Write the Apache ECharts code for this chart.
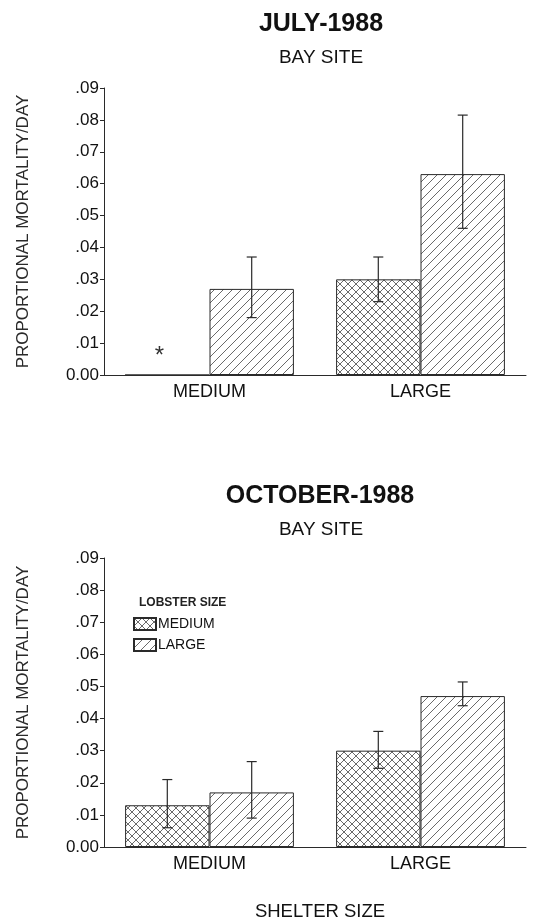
<!DOCTYPE html>
<html>
<head>
<meta charset="utf-8">
<script src="https://cdn.jsdelivr.net/npm/echarts@6/dist/echarts.min.js"></script>
<style>
  html, body { margin: 0; padding: 0; background: #fff; }
  #chart { width: 551px; height: 922px; }
</style>
</head>
<body>
<div id="chart"></div>
<script>
// shelter size categories
var categories = ['MEDIUM', 'LARGE'];

// July-1988, bay site (medium / large lobsters)
var julyMedium = [0, 0.030];
var julyLarge = [0.027, 0.063];
var julyMediumErr = [[0.023, 0.037]];      // only the LARGE shelter has one
var julyLargeErr = [[0.018, 0.037], [0.046, 0.0815]];

// October-1988, bay site
var octMedium = [0.013, 0.030];
var octLarge = [0.017, 0.047];
var octMediumErr = [[0.006, 0.021], [0.0245, 0.036]];
var octLargeErr = [[0.009, 0.0266], [0.044, 0.0514]];

// y axis ticks
var yMin = 0, yMax = 0.09, yStep = 0.01;

var ink = '#2a2a2a';
var font = 'Liberation Sans, Arial, sans-serif';

// hatch patterns
function makeHatch(cross, s) {
    var c = document.createElement('canvas');
    c.width = s; c.height = s;
    var ctx = c.getContext('2d');
    ctx.fillStyle = '#fff';
    ctx.fillRect(0, 0, s, s);
    ctx.strokeStyle = '#444';
    ctx.lineWidth = 0.8;
    ctx.beginPath();
    // "/" lines
    ctx.moveTo(0, s); ctx.lineTo(s, 0);
    ctx.moveTo(-1, 1); ctx.lineTo(1, -1);
    ctx.moveTo(s - 1, s + 1); ctx.lineTo(s + 1, s - 1);
    if (cross) {
        ctx.moveTo(0, 0); ctx.lineTo(s, s);
        ctx.moveTo(s - 1, -1); ctx.lineTo(s + 1, 1);
        ctx.moveTo(-1, s - 1); ctx.lineTo(1, s + 1);
    }
    ctx.stroke();
    return c;
}
var crossFill = { image: makeHatch(true, 8), repeat: 'repeat' };
var diagFill = { image: makeHatch(false, 9), repeat: 'repeat' };

function tickLabel(v) {
    if (Math.abs(v) < 1e-9) return '0.00';
    return v.toFixed(2).replace(/^0/, '');
}

function errData(arr, cats) {
    return arr.map(function (e, i) {
        return [cats[i], e[0], e[1]];
    });
}

// vertical error bars with caps, shifted to the bar's centre
function errorSeries(data, shift, gi) {
    return {
        type: 'custom',
        xAxisIndex: gi, yAxisIndex: gi,
        z: 10,
        data: data,
        encode: { x: 0, y: [1, 2] },
        renderItem: function (params, api) {
            var band = api.size([1, 0])[0];
            var lo = api.coord([api.value(0), api.value(1)]);
            var hi = api.coord([api.value(0), api.value(2)]);
            var x = lo[0] + shift * band;
            var cap = 5;
            var st = { stroke: ink, lineWidth: 1.2 };
            return {
                type: 'group',
                children: [
                    { type: 'line', shape: { x1: x, y1: lo[1], x2: x, y2: hi[1] }, style: st },
                    { type: 'line', shape: { x1: x - cap, y1: hi[1], x2: x + cap, y2: hi[1] }, style: st },
                    { type: 'line', shape: { x1: x - cap, y1: lo[1], x2: x + cap, y2: lo[1] }, style: st }
                ]
            };
        }
    };
}

function yAxisOf(gi) {
    return {
        type: 'value', gridIndex: gi,
        min: yMin, max: yMax, interval: yStep,
        name: 'PROPORTIONAL MORTALITY/DAY',
        nameLocation: 'middle', nameRotate: 90, nameGap: 72,
        nameTextStyle: { fontFamily: font, fontSize: 17, color: ink },
        axisLine: { show: true, lineStyle: { color: ink, width: 1 } },
        axisTick: { show: true, length: 4, lineStyle: { color: ink } },
        axisLabel: { fontFamily: font, fontSize: 17, color: '#111', margin: 5, formatter: tickLabel },
        splitLine: { show: false }
    };
}

function xAxisOf(gi) {
    return {
        type: 'category', gridIndex: gi, data: categories,
        axisLine: { show: true, lineStyle: { color: ink, width: 1 } },
        axisTick: { show: false },
        axisLabel: { fontFamily: font, fontSize: 18, color: '#111', margin: 8 }
    };
}

function barSeries(name, data, fill, gi) {
    return {
        name: name, type: 'bar', xAxisIndex: gi, yAxisIndex: gi,
        data: data,
        barGap: '0%', barCategoryGap: '20%',
        itemStyle: { color: fill, borderColor: ink, borderWidth: 1 }
    };
}

var chart = echarts.init(document.getElementById('chart'), null, { renderer: 'canvas' });

var option = {
    animation: false,
    backgroundColor: '#fff',
    title: [
        { text: 'JULY-1988', left: 316, top: 7, textAlign: 'center',
          textStyle: { fontFamily: font, fontSize: 25, fontWeight: 'bold', color: '#111' } },
        { text: 'BAY SITE', left: 316, top: 43, textAlign: 'center',
          textStyle: { fontFamily: font, fontSize: 19, fontWeight: 'normal', color: '#111' } },
        { text: 'OCTOBER-1988', left: 315, top: 479, textAlign: 'center',
          textStyle: { fontFamily: font, fontSize: 25, fontWeight: 'bold', color: '#111' } },
        { text: 'BAY SITE', left: 316, top: 515, textAlign: 'center',
          textStyle: { fontFamily: font, fontSize: 19, fontWeight: 'normal', color: '#111' } },
        { text: 'LOBSTER SIZE', left: 134, top: 592,
          textStyle: { fontFamily: font, fontSize: 12, fontWeight: 'bold', color: '#222' } },
        { text: 'SHELTER SIZE', left: 315, top: 897, textAlign: 'center',
          textStyle: { fontFamily: font, fontSize: 18.5, fontWeight: 'normal', color: '#111' } }
    ],
    legend: {
        orient: 'vertical', left: 128, top: 612,
        icon: 'rect',
        itemWidth: 22, itemHeight: 12, itemGap: 7,
        data: ['MEDIUM', 'LARGE'],
        textStyle: { fontFamily: font, fontSize: 14, color: '#111', padding: [0, 0, 0, -3] }
    },
    grid: [
        { left: 104, right: 25, top: 88, height: 287 },
        { left: 104, right: 25, top: 558, height: 289 }
    ],
    xAxis: [xAxisOf(0), xAxisOf(1)],
    yAxis: [yAxisOf(0), yAxisOf(1)],
    series: [
        barSeries('MEDIUM', julyMedium, crossFill, 0),
        barSeries('LARGE', julyLarge, diagFill, 0),
        barSeries('MEDIUM', octMedium, crossFill, 1),
        barSeries('LARGE', octLarge, diagFill, 1),
        errorSeries([[1, julyMediumErr[0][0], julyMediumErr[0][1]]], -0.2, 0),
        errorSeries(errData(julyLargeErr, [0, 1]), 0.2, 0),
        errorSeries(errData(octMediumErr, [0, 1]), -0.2, 1),
        errorSeries(errData(octLargeErr, [0, 1]), 0.2, 1),
        // asterisk over the empty July medium/medium bar
        {
            type: 'custom', xAxisIndex: 0, yAxisIndex: 0, z: 10,
            data: [[0, julyMedium[0]]],
            renderItem: function (params, api) {
                var band = api.size([1, 0])[0];
                var p = api.coord([api.value(0), api.value(1)]);
                return {
                    type: 'text',
                    style: {
                        x: p[0] - 0.2 * band - 8, y: p[1] - 19,
                        text: '*', fill: '#333',
                        font: '24px ' + font,
                        textAlign: 'center', textVerticalAlign: 'middle'
                    }
                };
            }
        }
    ]
};

chart.setOption(option);
</script>
</body>
</html>
